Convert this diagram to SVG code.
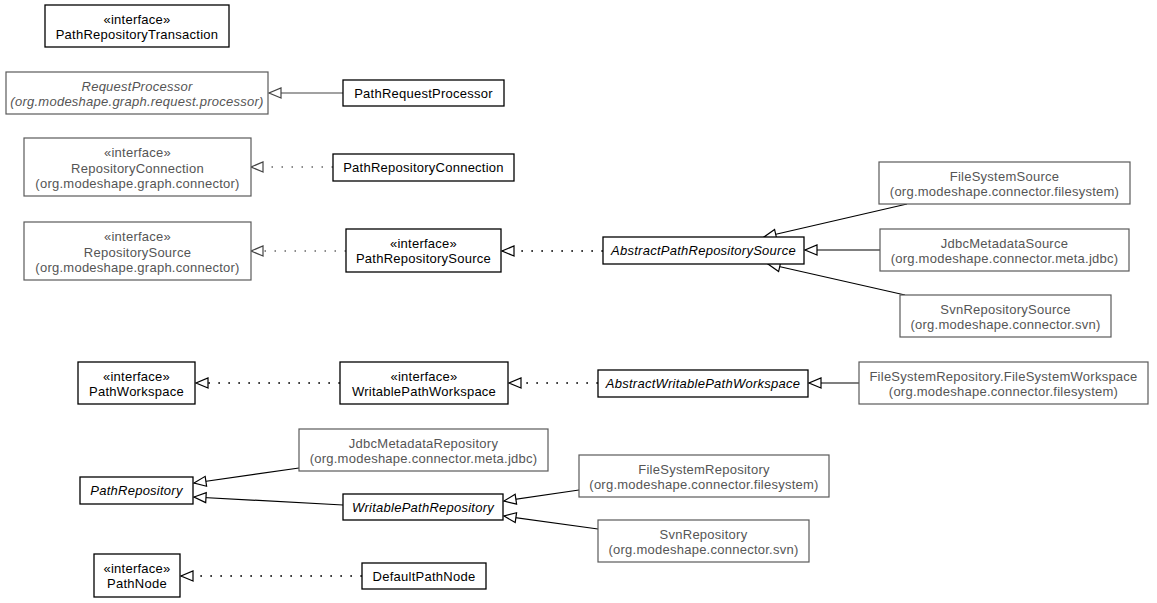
<svg xmlns="http://www.w3.org/2000/svg" width="1157" height="603" viewBox="0 0 1157 603">
<style>
text{font-family:"Liberation Sans",Arial,sans-serif;font-size:13px;letter-spacing:0.25px;text-anchor:middle;fill:#000}
.g text{fill:#555}
.it{font-style:italic}
rect{fill:#fff;stroke:#000;stroke-width:1.3}
.g rect{stroke:#5a5a5a;stroke-width:1.2}
.s{stroke:#000;stroke-width:1.2;fill:none;marker-end:url(#tri)}
.sg{stroke:#444;stroke-width:1.2;fill:none;marker-end:url(#trig)}
.d{stroke:#000;stroke-width:1.7;fill:none;stroke-dasharray:1.7 8.3;marker-end:url(#tri)}
.dg{stroke:#666;stroke-width:1.5;fill:none;stroke-dasharray:1.5 8.5;marker-end:url(#trig)}
</style>
<defs>
<marker id="tri" markerUnits="userSpaceOnUse" markerWidth="14" markerHeight="12" refX="12.5" refY="5.5" orient="auto" overflow="visible">
<path d="M0.5,0.5 L12.5,5.5 L0.5,10.5 Z" fill="#fff" stroke="#000" stroke-width="1.2" stroke-dasharray="none"/>
</marker>
<marker id="trig" markerUnits="userSpaceOnUse" markerWidth="14" markerHeight="12" refX="12.5" refY="5.5" orient="auto" overflow="visible">
<path d="M0.5,0.5 L12.5,5.5 L0.5,10.5 Z" fill="#fff" stroke="#444" stroke-width="1.2" stroke-dasharray="none"/>
</marker>
</defs>
<g id="connectors">
<line class="sg" x1="343" y1="93" x2="269" y2="93"/>
<line class="dg" x1="333" y1="167" x2="251" y2="167"/>
<line class="dg" x1="346" y1="251" x2="251" y2="251"/>
<line class="d" x1="603" y1="251" x2="502" y2="251"/>
<line class="s" x1="907" y1="204" x2="764" y2="237"/>
<line class="s" x1="880" y1="250" x2="805" y2="250"/>
<line class="s" x1="905" y1="295" x2="768" y2="264"/>
<line class="s" x1="859" y1="383" x2="809" y2="383"/>
<line class="d" x1="598" y1="383" x2="509" y2="383"/>
<line class="d" x1="340" y1="383" x2="196" y2="383"/>
<line class="s" x1="299" y1="468" x2="194" y2="483"/>
<line class="s" x1="343" y1="505" x2="194" y2="497"/>
<line class="s" x1="579" y1="490" x2="504" y2="501"/>
<line class="s" x1="598" y1="529" x2="504" y2="516"/>
<line class="d" x1="362" y1="576" x2="181" y2="576"/>
</g>
<g id="PathRepositoryTransaction"><rect x="45" y="5" width="184" height="42"/><text x="137" y="23.5">«interface»</text><text x="137" y="39">PathRepositoryTransaction</text></g>
<g id="RequestProcessor" class="g"><rect x="6" y="72" width="262" height="42"/><text class="it" x="137" y="90.5">RequestProcessor</text><text class="it" x="137" y="106">(org.modeshape.graph.request.processor)</text></g>
<g id="PathRequestProcessor"><rect x="343" y="80" width="161" height="26"/><text x="423.5" y="97.5">PathRequestProcessor</text></g>
<g id="RepositoryConnection" class="g"><rect x="24" y="138" width="227" height="58"/><text x="137.5" y="157">«interface»</text><text x="137.5" y="172.5">RepositoryConnection</text><text x="137.5" y="188">(org.modeshape.graph.connector)</text></g>
<g id="PathRepositoryConnection"><rect x="333" y="154" width="181" height="27"/><text x="423.5" y="172">PathRepositoryConnection</text></g>
<g id="RepositorySource" class="g"><rect x="24" y="222" width="227" height="58"/><text x="137.5" y="241">«interface»</text><text x="137.5" y="256.5">RepositorySource</text><text x="137.5" y="272">(org.modeshape.graph.connector)</text></g>
<g id="PathRepositorySource"><rect x="346" y="229" width="155" height="43"/><text x="423.5" y="247.5">«interface»</text><text x="423.5" y="263">PathRepositorySource</text></g>
<g id="AbstractPathRepositorySource"><rect x="603" y="237" width="201" height="27"/><text class="it" x="703.5" y="255">AbstractPathRepositorySource</text></g>
<g id="FileSystemSource" class="g"><rect x="879" y="162" width="251" height="42"/><text x="1004.5" y="180.5">FileSystemSource</text><text x="1004.5" y="196">(org.modeshape.connector.filesystem)</text></g>
<g id="JdbcMetadataSource" class="g"><rect x="880" y="229" width="249" height="42"/><text x="1004.5" y="247.5">JdbcMetadataSource</text><text x="1004.5" y="263">(org.modeshape.connector.meta.jdbc)</text></g>
<g id="SvnRepositorySource" class="g"><rect x="900" y="295" width="211" height="42"/><text x="1005.5" y="313.5">SvnRepositorySource</text><text x="1005.5" y="329">(org.modeshape.connector.svn)</text></g>
<g id="PathWorkspace"><rect x="78" y="362" width="117" height="42"/><text x="136.5" y="380.5">«interface»</text><text x="136.5" y="396">PathWorkspace</text></g>
<g id="WritablePathWorkspace"><rect x="340" y="362" width="168" height="42"/><text x="424" y="380.5">«interface»</text><text x="424" y="396">WritablePathWorkspace</text></g>
<g id="AbstractWritablePathWorkspace"><rect x="598" y="370" width="210" height="27"/><text class="it" x="703" y="388">AbstractWritablePathWorkspace</text></g>
<g id="FileSystemWorkspace" class="g"><rect x="859" y="362" width="289" height="42"/><text x="1003.5" y="380.5">FileSystemRepository.FileSystemWorkspace</text><text x="1003.5" y="396">(org.modeshape.connector.filesystem)</text></g>
<g id="JdbcMetadataRepository" class="g"><rect x="299" y="429" width="249" height="42"/><text x="423.5" y="447.5">JdbcMetadataRepository</text><text x="423.5" y="463">(org.modeshape.connector.meta.jdbc)</text></g>
<g id="FileSystemRepository" class="g"><rect x="579" y="455" width="250" height="42"/><text x="704" y="473.5">FileSystemRepository</text><text x="704" y="489">(org.modeshape.connector.filesystem)</text></g>
<g id="PathRepository"><rect x="80" y="477" width="113" height="27"/><text class="it" x="136.5" y="495">PathRepository</text></g>
<g id="WritablePathRepository"><rect x="343" y="494" width="160" height="26"/><text class="it" x="423" y="511.5">WritablePathRepository</text></g>
<g id="SvnRepository" class="g"><rect x="598" y="520" width="211" height="42"/><text x="703.5" y="538.5">SvnRepository</text><text x="703.5" y="554">(org.modeshape.connector.svn)</text></g>
<g id="PathNode"><rect x="94" y="554" width="86" height="43"/><text x="137" y="572.5">«interface»</text><text x="137" y="588">PathNode</text></g>
<g id="DefaultPathNode"><rect x="362" y="563" width="124" height="26"/><text x="424" y="580.5">DefaultPathNode</text></g>
</svg>
